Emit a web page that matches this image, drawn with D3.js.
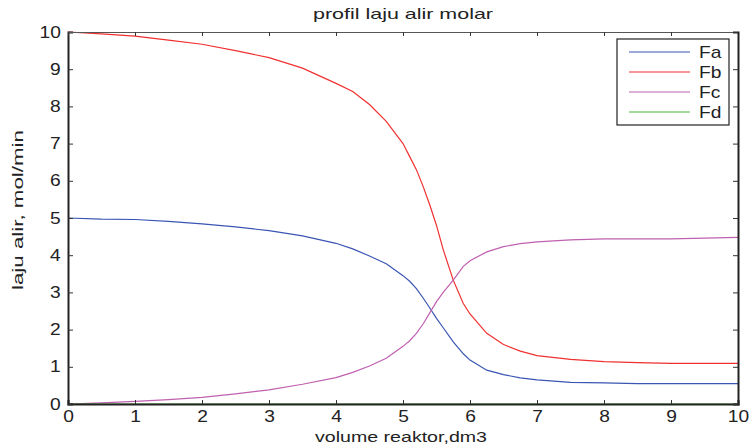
<!DOCTYPE html>
<html>
<head>
<meta charset="utf-8">
<script src="https://cdn.jsdelivr.net/npm/d3@7"></script>
<style>
  body { margin: 0; background: #fff; }
  svg text { font-family: "Liberation Sans", Arial, sans-serif; fill: #222; }
</style>
</head>
<body>
<svg id="drawing_region"></svg>
<script>
// volume reaktor (dm3)
var volume = [0, 0.5, 1, 1.5, 2, 2.5, 3, 3.5, 4, 4.25, 4.5, 4.75, 5, 5.1, 5.2, 5.3, 5.4, 5.5, 5.6, 5.75, 5.9, 6, 6.25, 6.5, 6.75, 7, 7.5, 8, 8.5, 9, 9.5, 10];
var fa = [5.0, 4.97, 4.96, 4.91, 4.84, 4.76, 4.66, 4.52, 4.32, 4.17, 3.98, 3.77, 3.45, 3.3, 3.1, 2.85, 2.58, 2.3, 2.05, 1.67, 1.35, 1.18, 0.91, 0.79, 0.7, 0.65, 0.58, 0.57, 0.55, 0.55, 0.55, 0.55];
var fb = [10, 9.95, 9.89, 9.78, 9.67, 9.5, 9.31, 9.03, 8.62, 8.4, 8.05, 7.6, 7.0, 6.65, 6.3, 5.85, 5.35, 4.8, 4.15, 3.33, 2.7, 2.42, 1.9, 1.6, 1.42, 1.3, 1.2, 1.14, 1.11, 1.09, 1.09, 1.09];
var fc = [0, 0.03, 0.07, 0.12, 0.18, 0.27, 0.38, 0.53, 0.71, 0.85, 1.02, 1.23, 1.55, 1.7, 1.9, 2.15, 2.45, 2.75, 3.0, 3.33, 3.7, 3.85, 4.09, 4.23, 4.31, 4.36, 4.41, 4.44, 4.44, 4.44, 4.46, 4.48];
var fd = [0, 0, 0, 0, 0, 0, 0, 0, 0, 0, 0, 0, 0, 0, 0, 0, 0, 0, 0, 0, 0, 0, 0, 0, 0, 0, 0, 0, 0, 0, 0, 0];

var seriesNames = ['Fa', 'Fb', 'Fc', 'Fd'];
var seriesColors = ['#3a55b4', '#f03030', '#c060b0', '#44b834'];
var xTicks = [0, 1, 2, 3, 4, 5, 6, 7, 8, 9, 10];
var yTicks = [0, 1, 2, 3, 4, 5, 6, 7, 8, 9, 10];

var width = 751, height = 448;
var margin = {left: 68, right: 13, top: 32, bottom: 44};

var svg = d3.select('#drawing_region')
    .attr('width', width)
    .attr('height', height);

var x = d3.scaleLinear().domain([0, 10]).range([margin.left, width - margin.right]);
var y = d3.scaleLinear().domain([0, 10]).range([height - margin.bottom, margin.top]);

var series = [fa, fb, fc, fd];

// lines
var line = d3.line()
    .x((d, i) => x(volume[i]))
    .y(d => y(d));

svg.append('g').selectAll('path')
    .data(series)
    .enter()
    .append('path')
    .attr('d', d => line(d))
    .attr('fill', 'none')
    .attr('stroke', (d, i) => seriesColors[i])
    .attr('stroke-width', 1.2);

// axes (matlab box style, ticks inside)
svg.append('g')
    .attr('transform', `translate(0, ${y(0)})`)
    .call(d3.axisBottom(x).tickValues(xTicks).tickSize(-4).tickPadding(7).tickFormat(d3.format('d')))
    .call(g => g.select('.domain').attr('stroke', '#222').attr('stroke-width', 2));

svg.append('g')
    .attr('transform', `translate(${x(0)}, 0)`)
    .call(d3.axisLeft(y).tickValues(yTicks).tickSize(-5).tickPadding(6).tickFormat(d3.format('d')))
    .call(g => g.select('.domain').attr('stroke', '#222').attr('stroke-width', 2));

svg.append('g')
    .attr('transform', `translate(0, ${y(10)})`)
    .call(d3.axisTop(x).tickValues(xTicks).tickSize(-4).tickFormat(''))
    .call(g => g.select('.domain').attr('stroke', '#555').attr('stroke-width', 1));

svg.append('g')
    .attr('transform', `translate(${x(10)}, 0)`)
    .call(d3.axisRight(y).tickValues(yTicks).tickSize(-5).tickFormat(''))
    .call(g => g.select('.domain').attr('stroke', '#222').attr('stroke-width', 2));

svg.selectAll('.tick line').attr('stroke', '#333');
svg.selectAll('.tick text')
    .style('font-size', '16px')
    .attr('transform', 'scale(1.2,1)');

// title and labels
svg.append('text')
    .attr('x', (x(0) + x(10)) / 2 - 90)
    .attr('y', 19)
    .attr('textLength', 180)
    .attr('lengthAdjust', 'spacingAndGlyphs')
    .style('font-size', '15px')
    .text('profil laju alir molar');

svg.append('text')
    .attr('x', 315)
    .attr('y', 442)
    .attr('textLength', 172)
    .attr('lengthAdjust', 'spacingAndGlyphs')
    .style('font-size', '15px')
    .text('volume reaktor,dm3');

svg.append('text')
    .attr('transform', `translate(23, ${(y(0) + y(10)) / 2 + 72}) rotate(-90)`)
    .attr('textLength', 160)
    .attr('lengthAdjust', 'spacingAndGlyphs')
    .style('font-size', '14px')
    .text('laju alir, mol/min');

// legend
var legend = svg.append('g').attr('transform', 'translate(617, 39)');
legend.append('rect')
    .attr('width', 112)
    .attr('height', 86)
    .attr('fill', '#fff')
    .attr('stroke', '#222')
    .attr('stroke-width', 1.2);

var items = legend.selectAll('g.item')
    .data(seriesNames)
    .enter()
    .append('g')
    .attr('transform', (d, i) => `translate(0, ${13 + i * 20})`);

items.append('line')
    .attr('x1', 12).attr('x2', 73)
    .attr('stroke', (d, i) => seriesColors[i])
    .attr('stroke-width', 1.2);

items.append('text')
    .attr('x', 82)
    .attr('dy', '0.35em')
    .attr('transform', 'scale(1.2,1)')
    .attr('transform-origin', '82 0')
    .style('font-size', '16px')
    .text(d => d);
</script>
</body>
</html>
